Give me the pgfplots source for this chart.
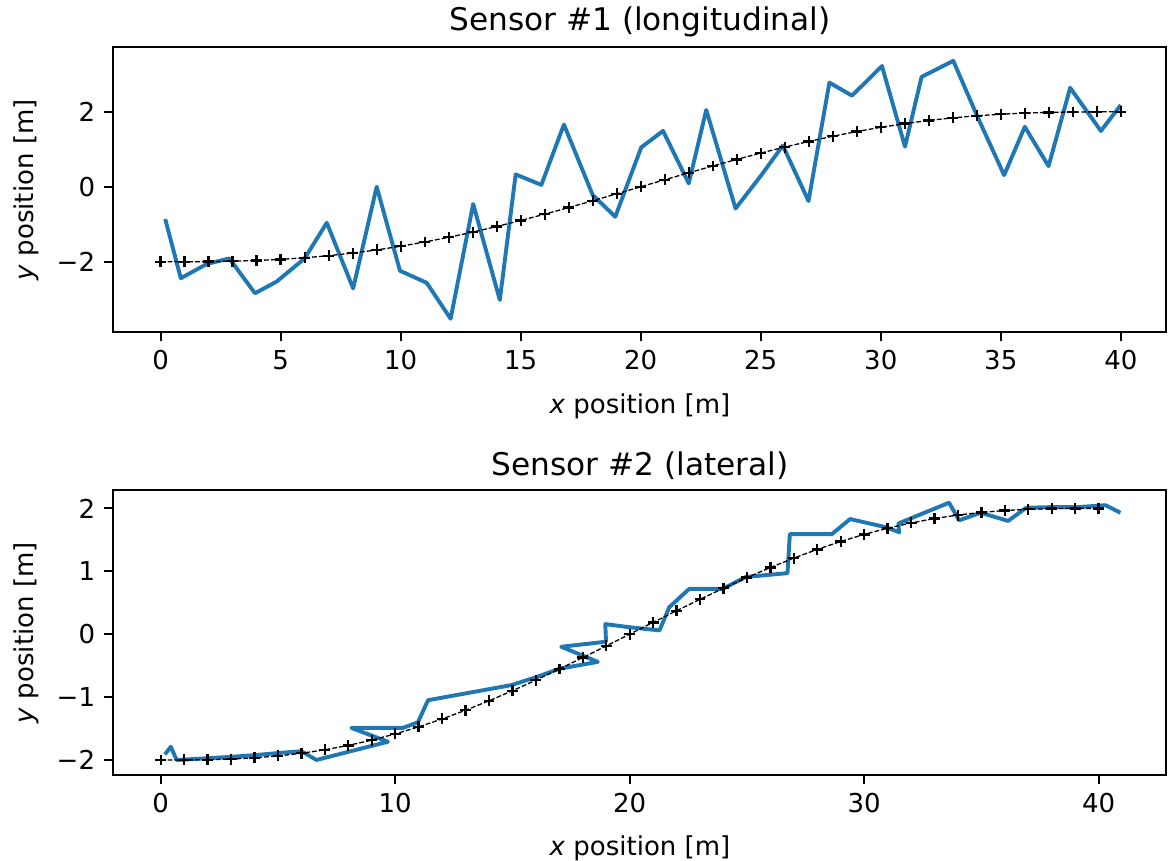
\documentclass[border=0pt]{standalone}
\usepackage{fontspec}
\setmainfont{DejaVu Sans}
\usepackage{pgfplots}
\usepackage{pgfplotstable}
\pgfplotsset{compat=1.18}
\definecolor{C0}{HTML}{1F77B4}

\pgfplotstableread{
x y
0 -2.0000
1 -1.9994
2 -1.9954
3 -1.9850
4 -1.9658
5 -1.9358
6 -1.8936
7 -1.8380
8 -1.7683
9 -1.6843
10 -1.5859
11 -1.4735
12 -1.3477
13 -1.2093
14 -1.0593
15 -0.8992
16 -0.7302
17 -0.5541
18 -0.3725
19 -0.1873
20 0.0000
21 0.1873
22 0.3725
23 0.5541
24 0.7302
25 0.8992
26 1.0593
27 1.2093
28 1.3477
29 1.4735
30 1.5859
31 1.6843
32 1.7683
33 1.8380
34 1.8936
35 1.9358
36 1.9658
37 1.9850
38 1.9954
39 1.9994
40 2.0000
}\truth

\pgfplotstableread{
x y
0.19 -0.86
0.84 -2.44
1.92 -2.06
2.86 -1.91
3.93 -2.84
4.83 -2.53
6.00 -1.91
6.92 -0.96
8.02 -2.71
9.00 0.00
9.97 -2.24
11.08 -2.56
12.08 -3.52
13.02 -0.46
14.13 -3.02
14.79 0.33
15.86 0.05
16.80 1.66
18.00 -0.22
18.94 -0.80
20.02 1.05
20.93 1.49
22.00 0.09
22.73 2.05
23.95 -0.58
25.00 0.29
25.92 1.10
26.99 -0.38
27.86 2.78
28.80 2.43
30.05 3.22
31.01 1.07
31.70 2.93
33.02 3.36
34.00 1.91
35.14 0.31
36.00 1.60
36.99 0.55
37.89 2.64
39.17 1.49
40.00 2.18
}\sensorA

\pgfplotstableread{
x y
0.18 -1.91
0.43 -1.79
0.68 -2.00
2.10 -1.97
3.00 -1.95
4.10 -1.92
5.00 -1.89
6.00 -1.86
6.64 -2.00
9.69 -1.71
8.13 -1.49
10.33 -1.49
10.97 -1.40
11.40 -1.05
13.17 -0.93
14.95 -0.81
16.04 -0.68
17.00 -0.55
18.64 -0.44
17.08 -0.20
18.99 -0.12
18.96 0.16
20.00 0.11
21.27 0.06
21.69 0.43
22.54 0.72
23.96 0.72
24.96 0.91
26.73 0.97
26.83 1.59
28.62 1.59
29.40 1.83
30.93 1.70
31.49 1.62
31.46 1.76
33.62 2.09
34.05 1.81
34.97 1.93
36.14 1.80
36.91 2.01
38.00 2.02
39.10 2.02
40.29 2.05
40.93 1.93
}\sensorB

\begin{document}
\begin{tikzpicture}
\path[use as bounding box] (-43.6pt,18.2pt) rectangle (406pt,-312.6pt);
\pgfplotsset{every axis/.append style={
  scale only axis, width=405pt, height=109.6pt,
  tick align=outside, tick pos=left, major tick length=3.5pt,
  every tick/.append style={black, line width=0.8pt},
  axis line style={line width=0.8pt},
  tick label style={font=\fontsize{10}{12}\selectfont},
  label style={font=\fontsize{10}{12}\selectfont},
  title style={font=\fontsize{12}{14}\selectfont, yshift=-5.5pt},
  xlabel style={yshift=-2pt},
  /pgf/number format/assume math mode=true,
  xlabel={\textit{x} position [m]},
  ylabel={\textit{y} position [m]},
}}
\pgfplotsset{
  blueline/.style={C0, line width=1.5pt, line join=round, no markers},
  truthline/.style={black, line width=0.5pt, dash pattern=on 1.85pt off 0.8pt,
     mark=+, mark size=2.1pt, mark options={solid, line width=0.9pt}},
}
\begin{axis}[
  at={(0,0)}, anchor=north west,
  title={Sensor \#1 (longitudinal)},
  xmin=-1.97, xmax=41.9, ymin=-3.88, ymax=3.72,
  xtick={0,5,...,40},
  ytick={-2,0,2}, yticklabels={−2,0,2},
]
\addplot[blueline] table[x=x,y=y] {\sensorA};
\addplot[truthline] table[x=x,y=y] {\truth};
\end{axis}
\begin{axis}[
  at={(0,-170.3pt)}, anchor=north west,
  title={Sensor \#2 (lateral)},
  xmin=-2.02, xmax=42.89, ymin=-2.24, ymax=2.29,
  xtick={0,10,...,40},
  ytick={-2,-1,0,1,2}, yticklabels={−2,−1,0,1,2},
]
\addplot[blueline] table[x=x,y=y] {\sensorB};
\addplot[truthline] table[x=x,y=y] {\truth};
\end{axis}
\end{tikzpicture}
\end{document}
